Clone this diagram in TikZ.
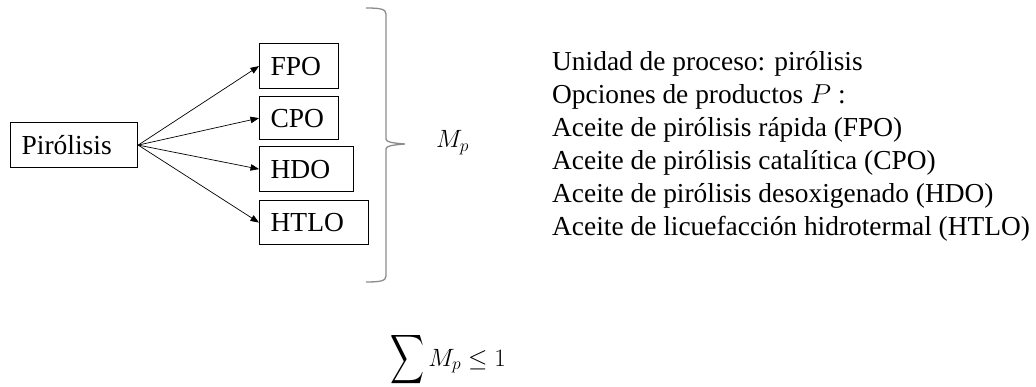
\RequirePackage{fix-cm}
\documentclass[tikz,border=0pt]{standalone}
\usepackage{fontspec}
\setmainfont{Liberation Serif}
\usepackage{graphicx}
\usetikzlibrary{arrows.meta}
\begin{document}
\begin{tikzpicture}[x=1pt,y=-1pt,
  box/.style={draw=black, line width=1.2pt, rectangle, inner xsep=11pt, inner ysep=0pt,
    anchor=north west, align=left, font=\fontsize{27.5}{30}\selectfont},
  link/.style={line width=0.7pt, -{Triangle[length=8.5pt,width=6.5pt]}},
  brace/.style={draw=black!45, line width=1.3pt},
  info/.style={anchor=base west, align=left, inner sep=0pt,
    font=\fontsize{27.4}{33}\selectfont},
  formula/.style={anchor=base west, inner sep=0pt, font=\fontsize{25}{27}\selectfont}]
\useasboundingbox (0,0) rectangle (1036,387);

% process unit and product boxes
\node[box, minimum width=127pt, minimum height=45pt, text width=105pt] (pyr) at (10,122) {Pirólisis};
\node[box, minimum width=79pt, minimum height=45pt, text width=57pt] (fpo) at (259,43) {FPO};
\node[box, minimum width=79pt, minimum height=43pt, text width=57pt] (cpo) at (259,96) {CPO};
\node[box, minimum width=94pt, minimum height=45pt, text width=72pt] (hdo) at (259,146) {HDO};
\node[box, minimum width=109pt, minimum height=44pt, text width=87pt] (htlo) at (259,200) {HTLO};

% product options
\foreach \t in {fpo,cpo,hdo,htlo}
  \draw[link] (pyr.east) -- (\t.west);

% brace grouping the product options
\path[brace] (366,8) .. controls (380,8) and (386,9) .. (386,14)
  -- (386,139) .. controls (386,142) and (392,143) .. (405,144)
  .. controls (392,145) and (386,146) .. (386,149)
  -- (386,276) .. controls (386,281) and (380,282) .. (366,282);

\node[formula] (mp) at (436,148) {$M_p$};

% description of the process unit (anchored at the last line)
\node[info] (desc) at (552,236) {Unidad de proceso: pirólisis\\
Opciones de productos $P$ :\\
Aceite de pirólisis rápida (FPO)\\
Aceite de pirólisis catalítica (CPO)\\
Aceite de pirólisis desoxigenado (HDO)\\
Aceite de licuefacción hidrotermal (HTLO)};

% constraint on the selection
\node[formula] (sum) at (390,366)
  {$\vcenter{\hbox{\resizebox{34pt}{49pt}{$\displaystyle\sum$}}}\, M_p \leq 1$};
\end{tikzpicture}
\end{document}
